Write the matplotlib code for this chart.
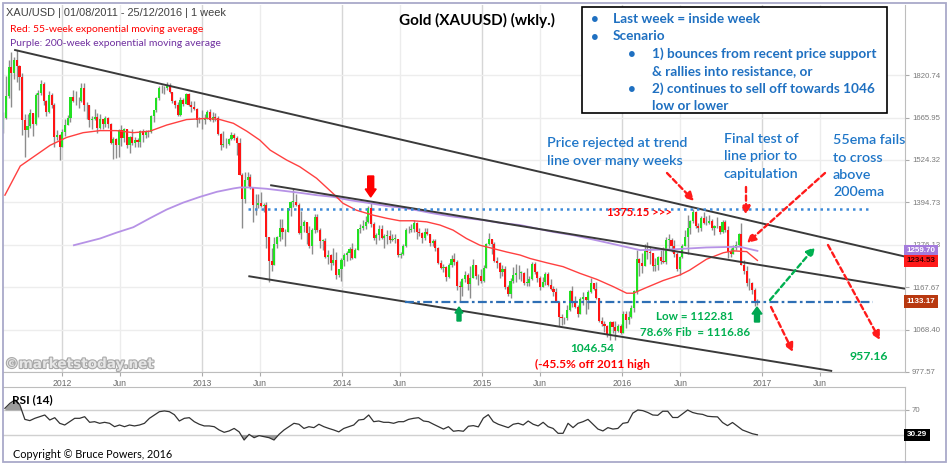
import numpy as np
import pandas as pd
import matplotlib
matplotlib.use('Agg')
import matplotlib.pyplot as plt
from matplotlib.patches import Rectangle, FancyArrow, FancyArrowPatch
from matplotlib.ticker import NullLocator
from matplotlib.transforms import Affine2D, blended_transform_factory
import matplotlib.patheffects as pe

W, H = 952, 467

# weekly candles, first week starts 01/08/2011 (open of each week = previous close)
first_open = 1625
closes = [
    # 2011
    1663, 1743, 1852, 1828, 1880, 1857, 1814, 1657, 1624, 1636, 1682, 1642, 1747, 1755, 1788, 1725, 1686, 1746, 1712, 1598, 1606, 1566,
    # 2012
    1617, 1640, 1664, 1738, 1725, 1725, 1726, 1774, 1710, 1710, 1658, 1662, 1668, 1630, 1660, 1642, 1663, 1645, 1580, 1592, 1572, 1622,
    1595, 1627, 1572, 1598, 1579, 1591, 1584, 1618, 1605, 1620, 1616, 1670, 1691, 1736, 1771, 1772, 1772, 1781, 1758, 1724, 1712, 1676,
    1730, 1714, 1752, 1712, 1704, 1697, 1659, 1657, 1656,
    # 2013
    1661, 1687, 1658, 1667, 1666, 1609, 1572, 1576, 1577, 1592, 1607, 1595, 1581, 1476, 1404, 1463, 1470, 1436, 1386, 1386, 1392,
    1383, 1387, 1296, 1234, 1223, 1277, 1296, 1322, 1310, 1312, 1377, 1396, 1396, 1387, 1308, 1326, 1338, 1309, 1272, 1315, 1352, 1315,
    1287, 1287, 1244, 1250, 1229, 1235, 1197, 1213, 1237,
    # 2014
    1248, 1254, 1264, 1240, 1262, 1318, 1323, 1328, 1339, 1379, 1334, 1294, 1303, 1318, 1294, 1300, 1300, 1290, 1293, 1293, 1250,
    1252, 1274, 1316, 1316, 1320, 1337, 1310, 1307, 1294, 1310, 1305, 1280, 1287, 1268, 1229, 1216, 1218, 1192, 1222, 1238, 1231, 1171,
    1169, 1188, 1197, 1175, 1191, 1222, 1195, 1195, 1184,
    # 2015
    1216, 1277, 1293, 1279, 1234, 1228, 1205, 1213, 1167, 1152, 1182, 1199, 1202, 1203, 1203, 1178, 1178, 1189, 1225, 1205, 1190,
    1168, 1181, 1201, 1173, 1164, 1157, 1132, 1098, 1095, 1094, 1113, 1159, 1134, 1121, 1103, 1138, 1145, 1137, 1156, 1177, 1163, 1142,
    1088, 1081, 1076, 1056, 1086, 1075, 1065, 1076, 1061,
    # 2016
    1103, 1090, 1097, 1117, 1158, 1239, 1228, 1221, 1259, 1258, 1254, 1220, 1222, 1243, 1234, 1232, 1290, 1290, 1273, 1252, 1214, 1243,
    1273, 1298, 1322, 1340, 1366, 1327, 1323, 1351, 1335, 1336, 1341, 1321, 1327, 1328, 1310, 1338, 1316, 1257, 1251, 1267, 1276, 1304,
    1224, 1208, 1178, 1177, 1160, 1134, 1133,
]
highs = [
    1684, 1817, 1880, 1912, 1890, 1920, 1860, 1829, 1680, 1680, 1695, 1683, 1755, 1765, 1802, 1793, 1730, 1763, 1753, 1718, 1622, 1609,
    1625, 1662, 1675, 1740, 1764, 1761, 1738, 1790, 1792, 1720, 1711, 1672, 1697, 1682, 1679, 1659, 1670, 1669, 1647, 1600, 1597, 1626,
    1640, 1630, 1628, 1604, 1627, 1599, 1597, 1624, 1628, 1623, 1624, 1674, 1693, 1740, 1778, 1785, 1781, 1796, 1792, 1759, 1729, 1722,
    1738, 1737, 1754, 1754, 1723, 1723, 1699, 1667, 1693,
    1680, 1694, 1697, 1684, 1683, 1673, 1612, 1619, 1597, 1597, 1616, 1613, 1603, 1596, 1484, 1486, 1487, 1479, 1440, 1418, 1418,
    1424, 1394, 1395, 1297, 1267, 1297, 1300, 1348, 1347, 1318, 1378, 1398, 1434, 1420, 1392, 1369, 1345, 1338, 1328, 1323, 1360, 1361,
    1322, 1293, 1294, 1262, 1251, 1267, 1257, 1214, 1240,
    1255, 1259, 1270, 1280, 1268, 1320, 1332, 1345, 1355, 1385, 1392, 1338, 1309, 1331, 1331, 1305, 1315, 1316, 1305, 1305, 1293,
    1256, 1278, 1322, 1328, 1332, 1345, 1339, 1321, 1310, 1323, 1322, 1306, 1293, 1292, 1269, 1237, 1227, 1220, 1228, 1250, 1255, 1235,
    1183, 1190, 1208, 1203, 1220, 1238, 1222, 1201, 1213,
    1224, 1282, 1307, 1288, 1284, 1244, 1230, 1223, 1220, 1173, 1190, 1219, 1225, 1223, 1209, 1206, 1215, 1196, 1232, 1232, 1207,
    1196, 1193, 1205, 1205, 1187, 1170, 1166, 1134, 1105, 1098, 1126, 1162, 1170, 1147, 1126, 1143, 1156, 1142, 1162, 1191, 1178, 1180,
    1142, 1096, 1087, 1078, 1088, 1088, 1088, 1081, 1082,
    1110, 1110, 1112, 1126, 1161, 1263, 1240, 1254, 1279, 1284, 1274, 1253, 1242, 1247, 1262, 1270, 1297, 1304, 1294, 1290, 1256, 1247,
    1278, 1315, 1358, 1345, 1375, 1370, 1336, 1356, 1367, 1356, 1358, 1347, 1330, 1352, 1328, 1343, 1343, 1327, 1267, 1275, 1285, 1308,
    1337, 1236, 1221, 1191, 1181, 1165, 1139,
]
lows = [
    1612, 1660, 1737, 1702, 1805, 1795, 1764, 1605, 1535, 1600, 1630, 1604, 1640, 1667, 1745, 1710, 1671, 1683, 1700, 1567, 1589, 1523,
    1565, 1602, 1640, 1652, 1720, 1711, 1701, 1722, 1688, 1662, 1634, 1627, 1656, 1612, 1625, 1626, 1635, 1631, 1577, 1527, 1532, 1534,
    1570, 1583, 1562, 1548, 1572, 1565, 1567, 1565, 1584, 1596, 1598, 1614, 1651, 1684, 1728, 1755, 1752, 1765, 1753, 1718, 1701, 1672,
    1673, 1706, 1723, 1705, 1685, 1691, 1635, 1647, 1625,
    1645, 1662, 1654, 1651, 1654, 1605, 1555, 1565, 1563, 1574, 1591, 1591, 1539, 1476, 1321, 1394, 1444, 1433, 1339, 1359, 1378,
    1380, 1366, 1268, 1180, 1207, 1226, 1267, 1286, 1292, 1272, 1312, 1356, 1380, 1383, 1305, 1292, 1312, 1277, 1267, 1251, 1307, 1310,
    1267, 1262, 1241, 1226, 1211, 1222, 1187, 1193, 1182,
    1221, 1233, 1235, 1238, 1240, 1261, 1308, 1317, 1320, 1335, 1325, 1290, 1277, 1290, 1291, 1268, 1277, 1281, 1285, 1280, 1245,
    1240, 1248, 1270, 1308, 1310, 1312, 1292, 1301, 1280, 1290, 1302, 1273, 1274, 1260, 1227, 1214, 1206, 1183, 1190, 1219, 1224, 1161,
    1132, 1146, 1180, 1162, 1142, 1190, 1187, 1173, 1178,
    1180, 1215, 1276, 1251, 1231, 1216, 1191, 1196, 1164, 1147, 1142, 1178, 1180, 1189, 1183, 1174, 1170, 1170, 1185, 1200, 1180,
    1162, 1170, 1174, 1170, 1160, 1147, 1131, 1077, 1078, 1080, 1090, 1111, 1120, 1118, 1098, 1103, 1124, 1104, 1115, 1154, 1161, 1139,
    1085, 1077, 1062, 1052, 1046, 1061, 1046, 1063, 1058,
    1061, 1071, 1080, 1094, 1109, 1150, 1196, 1203, 1220, 1239, 1226, 1209, 1207, 1210, 1225, 1229, 1227, 1266, 1258, 1244, 1208, 1199,
    1241, 1272, 1252, 1306, 1336, 1322, 1310, 1313, 1333, 1331, 1332, 1316, 1303, 1322, 1306, 1308, 1310, 1241, 1245, 1252, 1261, 1272,
    1222, 1201, 1171, 1161, 1152, 1122, 1124,
]

# moving averages
ema55_dates = ['2011-08-05', '2011-09-14', '2011-12-01', '2012-01-13', '2012-02-25', '2012-04-09', '2012-05-22', '2012-07-05',
               '2012-08-17', '2012-09-30', '2012-11-21', '2013-01-12', '2013-02-16', '2013-03-23', '2013-04-27', '2013-05-31',
               '2013-06-27', '2013-08-09', '2013-09-12', '2013-10-26', '2013-12-08', '2014-01-03', '2014-02-07', '2014-03-22',
               '2014-04-27', '2014-05-31', '2014-07-05', '2014-08-09', '2014-09-13', '2014-10-17', '2014-11-21', '2014-12-26',
               '2015-01-30', '2015-03-06', '2015-04-10', '2015-05-06', '2015-06-18', '2015-07-31', '2015-09-13', '2015-10-27',
               '2015-12-09', '2016-01-13', '2016-01-30', '2016-03-05', '2016-04-17', '2016-05-31', '2016-06-25', '2016-08-08',
               '2016-09-21', '2016-10-17', '2016-11-21', '2016-12-19']
ema55 = [1416, 1505, 1572, 1598, 1614, 1621, 1621, 1614, 1619, 1640, 1659, 1663, 1659, 1646, 1619, 1589, 1556, 1524, 1503,
         1467, 1421, 1392, 1372, 1358, 1349, 1342, 1342, 1339, 1330, 1316, 1293, 1275, 1266, 1257, 1249, 1240, 1229, 1219,
         1202, 1187, 1169, 1153, 1153, 1167, 1184, 1198, 1210, 1238, 1255, 1260, 1258, 1235]
ema200_dates = ['2012-02-01', '2012-04-09', '2012-05-22', '2012-07-05', '2012-08-17', '2012-09-30', '2012-11-12', '2012-12-26',
                '2013-02-08', '2013-03-23', '2013-04-09', '2013-05-05', '2013-06-18', '2013-07-31', '2013-09-12', '2013-10-26',
                '2013-12-08', '2014-01-21', '2014-03-05', '2014-04-27', '2014-05-31', '2014-07-14', '2014-08-26', '2014-10-09',
                '2014-11-21', '2015-01-04', '2015-02-16', '2015-04-10', '2015-07-05', '2015-08-27', '2015-11-22', '2016-02-17',
                '2016-05-13', '2016-08-08', '2016-11-03', '2016-12-19']
ema200 = [1275, 1293, 1309, 1324, 1349, 1374, 1394, 1411, 1426, 1436, 1439, 1439, 1435, 1429, 1423, 1416, 1411, 1401,
          1394, 1384, 1380, 1372, 1363, 1355, 1349, 1344, 1336, 1330, 1311, 1302, 1282, 1262, 1264, 1269, 1271, 1260]

# RSI(14), read every 13 days starting 05/08/2011
rsi_start = '2011-08-05'
rsi14 = [72.7, 80.7, 86, 78, 55, 53, 56.7, 59.3, 62, 54, 57.7, 48.7, 46, 51.3, 56.7, 56.7, 59.3, 50.3, 51.3, 48.7,
         50.3, 48.7, 43.3, 46, 43.3, 46, 44.5, 46, 48.7, 56.7, 62, 67.3, 68.5, 67.3, 62.5, 52.4, 56.7, 57.7, 51.3, 47.2,
         44.5, 44.5, 43.3, 38, 34.3, 36.5, 40.5, 35, 22, 31, 25.7, 29, 27.3, 25.7, 22, 31, 38, 43.3, 48.7, 47.2,
         40.5, 43.3, 41.8, 47.2, 43.3, 40.5, 38, 35, 40.5, 43.3, 46, 54, 55, 62, 51.3, 52.4, 50.3, 50.3, 48.7, 51.3,
         51.3, 55, 56.7, 57.7, 52.4, 51.3, 47.2, 43.3, 39.5,
         43.3, 36, 37, 36, 44, 45, 43, 57, 62.5, 51.3, 47.2, 44.5, 41.8, 47.2, 48.7, 46, 52.4, 47.2, 44.5, 50.3,
         43.3, 40.5, 32.7, 32.7, 48.7, 41.8, 48.7, 51.3, 55, 47.2, 39.5, 36.5, 41.8, 39.5, 40.5, 48.7, 50, 65, 70, 69,
         66, 62, 61.5, 68, 68, 58, 58, 64, 70, 66, 64, 63, 60, 59.3, 59, 50, 45, 50, 44, 38, 35, 32, 30.3]

price_ticks = [977.57, 1068.40, 1167.67, 1276.13, 1394.73, 1524.32, 1665.95, 1820.74]
last_ema200 = 1259.70
last_ema55 = 1234.53
last_close = 1133.17
last_rsi = 30.29

upper_line = (['2011-08-29', '2018-01-08'], [1920, 1245])
mid_line = (['2013-06-27', '2018-01-08'], [1446, 1164])
lower_line = (['2013-05-01', '2017-07-02'], [1195, 979.6])
resist_level = 1375.15
resist_span = ['2013-05-01', '2017-10-09']
support_level = 1131
support_span = ['2014-06-13', '2017-10-17']

plt.rcParams['font.family'] = ['Lato', 'DejaVu Sans']

fig = plt.figure(figsize=(W / 100, H / 100), dpi=100)
pxT = Affine2D().scale(1 / W, -1 / H).translate(0, 1) + fig.transFigure


def ax_rect(x0, y0, x1, y1):
    return [x0 / W, 1 - y1 / H, (x1 - x0) / W, (y1 - y0) / H]


def txt(x, y, s, **kw):
    kw.setdefault('va', 'center')
    fig.text(x / W, 1 - y / H, s, **kw)


xmin, xmax = pd.Timestamp('2011-07-31'), pd.Timestamp('2018-01-08')

# ---------------- price panel
ax = fig.add_axes(ax_rect(3, 5, 905, 372))
ax.set_yscale('log')
ax.set_ylim(977.57, 2109)
ax.set_xlim(xmin, xmax)

years = pd.to_datetime(['%d-01-01' % y for y in range(2012, 2018)])
juns = pd.to_datetime(['%d-06-01' % y for y in range(2012, 2018)])
for d in years:
    ax.axvline(d, color='#d6d6d6', lw=1, zorder=0)
for d in juns:
    ax.axvline(d, color='#ececec', lw=1, zorder=0)
for p in price_ticks:
    ax.axhline(p, color='#ededed', lw=1, zorder=0)

weeks = pd.date_range('2011-08-01', periods=len(closes), freq='7D')
c = np.array(closes, float)
o = np.r_[first_open, c[:-1]]
hi = np.maximum(np.array(highs, float), np.maximum(o, c))
lo = np.minimum(np.array(lows, float), np.minimum(o, c))
up = c >= o
ax.vlines(weeks, lo, hi, color='#8c8c8c', lw=1, zorder=2)
ax.bar(weeks, np.maximum(np.abs(c - o), 1.5), bottom=np.minimum(o, c), width=5.5,
       color=np.where(up, '#22e022', '#ff1414'), linewidth=0, zorder=3)

ax.plot(pd.to_datetime(ema200_dates), ema200, color='#b692e6', lw=1.3, zorder=4)
ax.plot(pd.to_datetime(ema55_dates), ema55, color='#ff4040', lw=1.0, zorder=4)

for dates, vals in (upper_line, mid_line, lower_line):
    ax.plot(pd.to_datetime(dates), vals, color='#3a3a3a', lw=1.4, zorder=5, solid_capstyle='butt')

ax.hlines(resist_level, pd.Timestamp(resist_span[0]), pd.Timestamp(resist_span[1]),
          color='#3d8ad8', lw=1.8, ls=(0, (1.0, 1.6)), zorder=5)
ax.hlines(support_level, pd.Timestamp(support_span[0]), pd.Timestamp(support_span[1]),
          color='#2e6fb5', lw=1.6, ls=(0, (4, 1.5, 1.2, 1.5)), zorder=5)

ax.yaxis.tick_right()
ax.yaxis.set_minor_locator(NullLocator())
ax.set_yticks(price_ticks)
ax.set_yticklabels(['%.2f' % p for p in price_ticks])
ax.tick_params(axis='y', length=3, width=0.8, color='#aaaaaa', labelsize=5.6,
               labelcolor='#7a7a7a', pad=2, labelfontfamily='Liberation Sans')
ticks = list(years) + list(juns)
labels = [str(d.year) for d in years] + ['Jun'] * len(juns)
ax.set_xticks(ticks)
ax.set_xticklabels(labels)
ax.xaxis.set_minor_locator(NullLocator())
ax.tick_params(axis='x', length=3, width=0.8, color='#aaaaaa', labelsize=6.2,
               labelcolor='#6a6a6a', pad=2, labelfontfamily='Liberation Sans')
for s in ('top', 'left'):
    ax.spines[s].set_visible(False)
for s in ('right', 'bottom'):
    ax.spines[s].set_color('#bdbdbd')

bt = blended_transform_factory(ax.transAxes, ax.transData)
for val, fc, tc in ((last_ema200, '#a47bdc', 'white'), (last_ema55, '#ff1a1a', '#3a0000'),
                    (last_close, '#b8380f', 'white')):
    ax.text(1.002, val, '%.2f' % val, transform=bt, ha='left', va='center', fontsize=5.8,
            fontweight='bold', color=tc, family='Liberation Sans', zorder=10, clip_on=False,
            bbox=dict(boxstyle='square,pad=0.32', fc=fc, ec='none'))

# ---------------- RSI panel
ax2 = fig.add_axes(ax_rect(3, 387, 905, 462))
ax2.set_xlim(xmin, xmax)
ax2.set_ylim(-13.2, 106.8)
rd = pd.date_range(rsi_start, periods=len(rsi14), freq='13D')
r = np.array(rsi14)
ax2.axhline(70, color='#d0d0d0', lw=1, zorder=0)
ax2.axhline(30, color='#d0d0d0', lw=1, zorder=0)
ax2.fill_between(rd, r, 70, where=r > 70, interpolate=True, color='#9c9c9c', lw=0)
ax2.fill_between(rd, r, 30, where=r < 30, interpolate=True, color='#9c9c9c', lw=0)
ax2.plot(rd, r, color='#333333', lw=0.9)
ax2.set_xticks([])
ax2.yaxis.tick_right()
ax2.set_yticks([70])
ax2.set_yticklabels(['70'])
ax2.tick_params(axis='y', length=3, width=0.8, color='#aaaaaa', labelsize=5.6,
                labelcolor='#7a7a7a', pad=2, labelfontfamily='Liberation Sans')
for s in ('left', 'bottom'):
    ax2.spines[s].set_visible(False)
for s in ('right', 'top'):
    ax2.spines[s].set_color('#bdbdbd')
bt2 = blended_transform_factory(ax2.transAxes, ax2.transData)
ax2.text(1.002, last_rsi, '%.2f' % last_rsi, transform=bt2, ha='left', va='center', fontsize=5.8,
         fontweight='bold', color='white', family='Liberation Sans', clip_on=False,
         bbox=dict(boxstyle='square,pad=0.32', fc='black', ec='none'))

# ---------------- frame and texts
fig.add_artist(Rectangle((3, 3), 943, 459, transform=pxT, fill=False, ec='#a9a9c9', lw=1.3, zorder=1))

txt(6, 13, 'XAU/USD | 01/08/2011 - 25/12/2016 | 1 week', color='#404040', fontsize=7.9, family='Liberation Sans')
txt(10, 29, 'Red: 55-week exponential moving average', color='#ff0000', fontsize=7.5)
txt(10, 43, 'Purple: 200-week exponential moving average', color='#7030a0', fontsize=7.5)
txt(477, 20, 'Gold (XAUUSD) (wkly.)', color='black', fontsize=11, fontweight='bold', ha='center')

fig.add_artist(Rectangle((582, 7), 305, 106, transform=pxT, fc='white', ec='black', lw=1.2, zorder=4))
blue_box = '#1f70c1'
box_lines = [(591, 613, 19, 'Last week = inside week', True),
             (591, 613, 36.5, 'Scenario', True),
             (628, 652, 54, '1) bounces from recent price support', True),
             (628, 652, 71, '& rallies into resistance, or', False),
             (628, 652, 88.5, '2) continues to sell off towards 1046', True),
             (628, 652, 105.5, 'low or lower', False)]
for bx, tx, ty, s, bullet in box_lines:
    if bullet:
        txt(bx, ty, '\u2022', color=blue_box, fontsize=9.5, fontweight='bold', zorder=5)
    txt(tx, ty, s, color=blue_box, fontsize=9.8, fontweight='bold', zorder=5)

blue = '#1f76c8'
for i, s in enumerate(['Price rejected at trend', 'line over many weeks']):
    txt(547, 143 + 18 * i, s, color=blue, fontsize=10.3, fontweight='semibold')
for i, s in enumerate(['Final test of', 'line prior to', 'capitulation']):
    txt(724, 139 + 17.5 * i, s, color=blue, fontsize=10.3, fontweight='semibold')
for i, s in enumerate(['55ema fails', 'to cross', 'above', '200ema']):
    txt(833, 140 + 17.5 * i, s, color=blue, fontsize=10.3, fontweight='semibold')

txt(607, 213, '1375.15 >>>', color='#ff0000', fontsize=8.2, fontweight='bold')
green = '#00b050'
txt(656, 316, 'Low = 1122.81', color=green, fontsize=8.4, fontweight='bold')
txt(640, 332, '78.6% Fib  = 1116.86', color=green, fontsize=8.4, fontweight='bold')
txt(570, 348, '1046.54', color=green, fontsize=8.6, fontweight='bold')
txt(535, 364, '(-45.5% off 2011 high', color='#ff0000', fontsize=8.6, fontweight='bold')
txt(849, 357, '957.16', color=green, fontsize=8.8, fontweight='bold')
txt(5, 364, '\u00a9marketstoday.net', color='#e6e6e6', fontsize=9.8, fontweight='bold', family='DejaVu Sans',
    path_effects=[pe.withStroke(linewidth=1.6, foreground='#a8a8a8')])
txt(12, 400, 'RSI (14)', color='black', fontsize=8.6, fontweight='bold')
txt(13, 454, 'Copyright \u00a9 Bruce Powers, 2016', color='black', fontsize=7.8)

# block arrows
fig.add_artist(FancyArrow(370.7, 176, 0, 21, width=6, head_width=11, head_length=8,
                          length_includes_head=True, color='#ff0000', transform=pxT, zorder=6))
fig.add_artist(FancyArrow(459, 321, 0, -14, width=4, head_width=8, head_length=6,
                          length_includes_head=True, color='#00a651', transform=pxT, zorder=6))
fig.add_artist(FancyArrow(757, 322, 0, -15, width=5, head_width=10, head_length=7,
                          length_includes_head=True, color='#00a651', transform=pxT, zorder=6))

# dashed arrows
dashed = [((667, 173), (694, 201), '#ff1a1a'),
          ((746, 187), (746, 215), '#ff1a1a'),
          ((825, 173), (747, 243), '#ff1a1a'),
          ((770, 300), (815, 247), '#00b050'),
          ((828, 245), (880, 340), '#ff1a1a'),
          ((771, 307), (793, 352), '#ff1a1a')]
for p0, p1, col in dashed:
    fig.add_artist(FancyArrowPatch(p0, p1, transform=pxT, arrowstyle='-|>,head_length=5,head_width=2.6',
                                   linestyle=(0, (2.2, 1.4)), lw=1.7, color=col, mutation_scale=1,
                                   shrinkA=0, shrinkB=0, zorder=6))

fig.savefig('out.png', dpi=100, facecolor='white')
